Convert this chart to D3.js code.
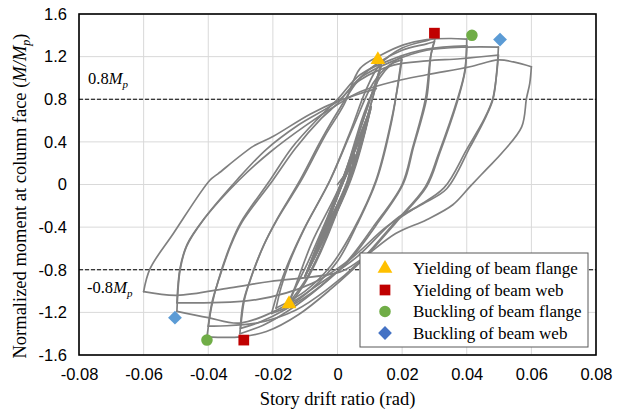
<!DOCTYPE html>
<html lang="en">
<head>
<meta charset="utf-8">
<title>Hysteresis curve</title>
<script src="https://cdn.jsdelivr.net/npm/d3@7"></script>
<style>
body { margin: 0; background: #fff; }
svg { display: block; font-family: 'Liberation Serif', 'Times New Roman', serif; }
.grid line { stroke: #d9d9d9; stroke-width: 1; }
.tick text { font-size: 16.5px; fill: #000; }
.axis path, .axis line { display: none; }
.loop { fill: none; stroke: #808080; stroke-width: 1.7; stroke-linejoin: round; stroke-linecap: round; }
.limit { stroke: #000; stroke-width: 1.2; stroke-dasharray: 4,2; }
.lbl { font-size: 16.5px; fill: #000; }
</style>
</head>
<body>
<svg width="619" height="410"></svg>
<script>

// ticks
var xTicks = [-0.08, -0.06, -0.04, -0.02, 0, 0.02, 0.04, 0.06, 0.08];
var yTicks = [-1.6, -1.2, -0.8, -0.4, 0, 0.4, 0.8, 1.2, 1.6];
var limits = [0.8, -0.8];

// hysteresis path [drift, M/Mp]
var smallCycles = [
  [0, 0], [0.0040, 0.16], [0.0030, 0.03], [-0.0037, -0.42], [0.0010, -0.03],
  [0.0040, 0.17], [0.0032, 0.03], [-0.0037, -0.41], [0.0012, -0.02],
  [0.0040, 0.18], [0.0034, 0.04], [-0.0036, -0.40], [0.0008, -0.03],
  [0.0052, 0.26], [0.0033, 0.03], [-0.0050, -0.52], [0.0010, -0.03],
  [0.0052, 0.27], [0.0035, 0.04], [-0.0050, -0.52], [0.0012, -0.02],
  [0.0053, 0.28], [0.0037, 0.04], [-0.0049, -0.51], [0.0007, -0.03],
  [0.0077, 0.48], [0.0036, 0.04], [-0.0075, -0.70], [0.0008, -0.03],
  [0.0077, 0.49], [0.0038, 0.05], [-0.0075, -0.70], [0.0010, -0.02],
  [0.0078, 0.50], [0.0040, 0.05], [-0.0074, -0.69], [0.0006, -0.03],
  [0.0102, 0.70], [0.0038, 0.04], [-0.0100, -0.86], [0.0005, -0.04],
  [0.0102, 0.71], [0.0040, 0.05], [-0.0100, -0.86], [0.0007, -0.03],
  [0.0104, 0.73], [0.0042, 0.05], [-0.0099, -0.85], [0.0010, -0.02]
];

var cycle015 = [
  [0.0090, 0.70], [0.0135, 1.12], [0.0115, 0.88], [0.0035, 0.05], [-0.0050, -0.62],
  [-0.0100, -0.92], [-0.0155, -1.16], [-0.0135, -1.00], [-0.0090, -0.72], [0.0012, 0.02],
  [0.0090, 0.70], [0.0133, 1.10], [0.0113, 0.86], [0.0033, 0.04], [-0.0050, -0.60],
  [-0.0100, -0.90], [-0.0155, -1.13], [-0.0130, -0.95], [-0.0080, -0.55], [0.0015, 0.04]
];

var cycle02 = [
  [0.0080, 0.65], [0.0130, 1.00], [0.0170, 1.14], [0.0199, 1.20],
  [0.0193, 1.07], [0.0168, 0.60], [0.0121, 0.04], [0.0060, -0.38], [0.0000, -0.72],
  [-0.0080, -0.98], [-0.0150, -1.14], [-0.0204, -1.21],
  [-0.0183, -0.99], [-0.0157, -0.77], [-0.0106, -0.43], [-0.0023, 0.04], [0.0050, 0.55],
  [0.0110, 0.95], [0.0160, 1.12], [0.0199, 1.17],
  [0.0192, 1.02], [0.0165, 0.58], [0.0118, 0.03], [0.0050, -0.42], [-0.0020, -0.76],
  [-0.0100, -1.00], [-0.0190, -1.16]
];

var cycle03 = [
  [-0.0175, -0.97], [-0.0150, -0.74], [-0.0100, -0.40], [-0.0023, 0.04], [0.0040, 0.50],
  [0.0090, 0.90], [0.0130, 1.12], [0.0200, 1.28], [0.0276, 1.35], [0.0302, 1.37],
  [0.0290, 1.23], [0.0276, 0.81], [0.0235, 0.35], [0.0204, 0.01], [0.0120, -0.38],
  [0.0040, -0.70], [-0.0050, -0.95], [-0.0150, -1.18], [-0.0230, -1.32], [-0.0302, -1.40],
  [-0.0292, -1.11], [-0.0271, -0.90], [-0.0230, -0.58], [-0.0188, -0.33], [-0.0116, 0.04],
  [-0.0050, 0.42], [0.0000, 0.68], [0.0070, 1.00], [0.0130, 1.15], [0.0200, 1.26],
  [0.0276, 1.32], [0.0300, 1.34],
  [0.0288, 1.20], [0.0272, 0.80], [0.0232, 0.34], [0.0200, 0.00], [0.0110, -0.40],
  [0.0030, -0.72], [-0.0060, -0.97], [-0.0160, -1.17], [-0.0240, -1.29], [-0.0300, -1.35]
];

var cycle04 = [
  [-0.0288, -1.08], [-0.0268, -0.88], [-0.0228, -0.57], [-0.0185, -0.32], [-0.0110, 0.05],
  [-0.0040, 0.45], [0.0020, 0.75], [0.0070, 1.09], [0.0132, 1.21], [0.0204, 1.31],
  [0.0276, 1.36], [0.0350, 1.37], [0.0400, 1.365],
  [0.0395, 1.07], [0.0374, 0.81], [0.0317, 0.30], [0.0276, -0.02], [0.0180, -0.36],
  [0.0080, -0.70], [-0.0020, -0.98], [-0.0120, -1.22], [-0.0220, -1.38], [-0.0300, -1.43],
  [-0.0404, -1.43],
  [-0.0390, -1.15], [-0.0369, -0.90], [-0.0333, -0.58], [-0.0300, -0.36], [-0.0209, 0.04],
  [-0.0140, 0.35], [-0.0060, 0.62], [0.0000, 0.80], [0.0070, 1.03], [0.0173, 1.18],
  [0.0276, 1.27], [0.0400, 1.30],
  [0.0393, 1.05], [0.0370, 0.79], [0.0313, 0.29], [0.0272, -0.02], [0.0170, -0.38],
  [0.0070, -0.72], [-0.0030, -0.98], [-0.0130, -1.18], [-0.0250, -1.30], [-0.0400, -1.33]
];

var cycle05 = [
  [-0.0388, -1.10], [-0.0366, -0.88], [-0.0330, -0.57], [-0.0295, -0.35], [-0.0200, 0.04],
  [-0.0130, 0.34], [-0.0050, 0.62], [0.0000, 0.76], [0.0070, 1.00], [0.0173, 1.16],
  [0.0276, 1.26], [0.0400, 1.29], [0.0498, 1.29],
  [0.0494, 1.10], [0.0482, 0.81], [0.0460, 0.64], [0.0410, 0.35], [0.0338, -0.04],
  [0.0265, -0.18], [0.0183, -0.32], [0.0060, -0.68], [-0.0050, -0.92], [-0.0150, -1.12],
  [-0.0300, -1.30], [-0.0400, -1.25], [-0.0497, -1.19],
  [-0.0487, -0.80], [-0.0467, -0.58], [-0.0415, -0.33], [-0.0312, 0.04], [-0.0220, 0.33],
  [-0.0120, 0.56], [0.0000, 0.78], [0.0070, 0.98], [0.0173, 1.12], [0.0276, 1.16],
  [0.0380, 1.18], [0.0498, 1.215],
  [0.0493, 1.05], [0.0480, 0.80], [0.0455, 0.62], [0.0400, 0.33], [0.0330, -0.03],
  [0.0240, -0.22], [0.0150, -0.40], [0.0040, -0.70], [-0.0080, -0.93], [-0.0250, -1.08],
  [-0.0497, -1.11]
];

var cycle06 = [
  [-0.0487, -0.78], [-0.0465, -0.56], [-0.0412, -0.32], [-0.0305, 0.04], [-0.0210, 0.30],
  [-0.0100, 0.55], [0.0000, 0.75], [0.0070, 0.87], [0.0173, 0.965], [0.0276, 1.03],
  [0.0410, 1.105], [0.0498, 1.17], [0.0544, 1.15], [0.0600, 1.105],
  [0.0595, 0.95], [0.0585, 0.81], [0.0570, 0.54], [0.0510, 0.30], [0.0460, 0.14],
  [0.0410, -0.02], [0.0357, -0.19], [0.0276, -0.33], [0.0180, -0.46], [0.0070, -0.71],
  [0.0008, -0.82], [-0.0209, -0.91], [-0.0333, -0.97], [-0.0497, -1.04], [-0.0600, -1.006],
  [-0.0580, -0.79], [-0.0508, -0.46], [-0.0395, 0.04], [-0.0370, 0.10], [-0.0260, 0.36],
  [-0.0200, 0.45], [-0.0085, 0.66], [0.0000, 0.78], [0.0120, 0.90]
];

// damage events
var eventNames = ["Yielding of beam flange", "Yielding of beam web", "Buckling of beam flange", "Buckling of beam web"];
var eventShapes = ["triangle", "square", "circle", "diamond"];
var eventColors = ["#ffc000", "#c00000", "#70ad47", "#5b9bd5"];
var legendColors = ["#ffc000", "#c00000", "#70ad47", "#4472c4"];
var eventPoints = [
  [[0.0125, 1.17], [-0.0150, -1.12]],
  [[0.0300, 1.42], [-0.0290, -1.46]],
  [[0.0416, 1.40], [-0.0404, -1.46]],
  [[0.0503, 1.36], [-0.0503, -1.25]]
];

var svg = d3.select("svg");
var margin = {top: 14, right: 23, bottom: 55, left: 79};
var W = 619, H = 410;

var x = d3.scaleLinear().domain([-0.08, 0.08]).range([margin.left, W - margin.right]);
var y = d3.scaleLinear().domain([-1.6, 1.6]).range([H - margin.bottom, margin.top]);

// grid
var grid = svg.append("g").attr("class", "grid");
grid.selectAll(".gx").data(xTicks).enter().append("line")
  .attr("x1", function(d) { return x(d); }).attr("x2", function(d) { return x(d); })
  .attr("y1", y(-1.6)).attr("y2", y(1.6));
grid.selectAll(".gy").data(yTicks).enter().append("line")
  .attr("x1", x(-0.08)).attr("x2", x(0.08))
  .attr("y1", function(d) { return y(d); }).attr("y2", function(d) { return y(d); });

// 0.8Mp lines
svg.selectAll(".limit").data(limits).enter().append("line")
  .attr("class", "limit")
  .attr("x1", x(-0.08)).attr("x2", x(0.08))
  .attr("y1", function(d) { return y(d); }).attr("y2", function(d) { return y(d); });

// curve: split into branches at the load reversals so peaks stay sharp
var path = [].concat(smallCycles, cycle015, cycle02, cycle03, cycle04, cycle05, cycle06);
var branches = [], cur = [path[0]], dir = 0;
for (var i = 1; i < path.length; i++) {
  var d = Math.sign(path[i][0] - path[i - 1][0]);
  if (dir !== 0 && d !== 0 && d !== dir) {
    branches.push(cur);
    cur = [path[i - 1]];
  }
  if (d !== 0) dir = d;
  cur.push(path[i]);
}
branches.push(cur);

var line = d3.line()
  .x(function(d) { return x(d[0]); })
  .y(function(d) { return y(d[1]); })
  .curve(d3.curveCatmullRom.alpha(0.5));
svg.selectAll(".loop").data(branches).enter().append("path")
  .attr("class", "loop").attr("d", line);

// markers
var sym = {
  triangle: d3.symbol().type(d3.symbolTriangle).size(95),
  square: d3.symbol().type(d3.symbolSquare).size(115),
  circle: d3.symbol().type(d3.symbolCircle).size(105),
  diamond: d3.symbol().type(d3.symbolSquare).size(95)
};
eventPoints.forEach(function(pts, i) {
  svg.selectAll(".m" + i).data(pts).enter().append("path")
    .attr("d", sym[eventShapes[i]]())
    .attr("fill", eventColors[i])
    .attr("transform", function(d) {
      return "translate(" + x(d[0]) + "," + y(d[1]) + ")" + (eventShapes[i] == "diamond" ? " rotate(45)" : "");
    });
});

// frame
svg.append("rect")
  .attr("x", x(-0.08)).attr("y", y(1.6))
  .attr("width", x(0.08) - x(-0.08)).attr("height", y(-1.6) - y(1.6))
  .attr("fill", "none").attr("stroke", "#000").attr("stroke-width", 1.6);

// axes
var fmtX = function(d) { return d === 0 ? "0" : d.toFixed(2); };
var fmtY = function(d) { return d === 0 ? "0" : d.toFixed(1); };
svg.append("g").attr("class", "axis")
  .attr("transform", "translate(0," + (y(-1.6) + 4) + ")")
  .call(d3.axisBottom(x).tickValues(xTicks).tickSize(0).tickPadding(9).tickFormat(fmtX));
svg.append("g").attr("class", "axis")
  .attr("transform", "translate(" + (x(-0.08) - 4) + ",0)")
  .call(d3.axisLeft(y).tickValues(yTicks).tickSize(0).tickPadding(8).tickFormat(fmtY));
svg.selectAll(".tick text").attr("font-family", null).attr("font-size", null);

// axis titles
svg.append("text").attr("class", "lbl")
  .attr("x", (x(-0.08) + x(0.08)) / 2).attr("y", 405)
  .attr("text-anchor", "middle").style("font-size", "18.5px")
  .text("Story drift ratio (rad)");

var yt = svg.append("text").attr("class", "lbl")
  .attr("transform", "translate(26,196) rotate(-90)")
  .attr("text-anchor", "middle").style("font-size", "18.5px");
yt.append("tspan").text("Normalized moment at column face (");
yt.append("tspan").style("font-style", "italic").text("M/M");
yt.append("tspan").style("font-style", "italic").style("font-size", "12px").attr("dy", 4).text("p");
yt.append("tspan").attr("dy", -4).text(")");

// limit labels
function mpLabel(tx, ty, val) {
  var t = svg.append("text").attr("class", "lbl").attr("x", tx).attr("y", ty);
  t.append("tspan").text(val);
  t.append("tspan").style("font-style", "italic").text("M");
  t.append("tspan").style("font-style", "italic").style("font-size", "11px").attr("dy", 4).text("p");
}
mpLabel(88, 84, "0.8");
mpLabel(87, 293, "-0.8");

// legend
var lg = svg.append("g").attr("transform", "translate(360,253)");
lg.append("rect").attr("width", 228).attr("height", 94)
  .attr("fill", "#fff").attr("stroke", "#595959").attr("stroke-width", 1);
eventNames.forEach(function(name, i) {
  var cy = 15.5 + i * 21.5;
  lg.append("path")
    .attr("d", sym[eventShapes[i]]())
    .attr("fill", legendColors[i])
    .attr("transform", "translate(25," + cy + ")" + (eventShapes[i] == "diamond" ? " rotate(45)" : ""));
  lg.append("text").attr("class", "lbl").attr("x", 53).attr("y", cy + 5.5)
    .style("font-size", "17px").text(name);
});

</script>
</body>
</html>
